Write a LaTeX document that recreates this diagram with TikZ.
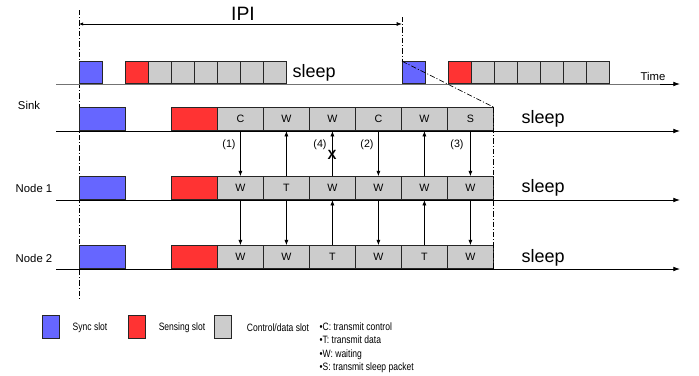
\documentclass[tikz,border=0pt]{standalone}
\usepackage{fontspec}
\setmainfont{Liberation Sans}
\newfontfamily\narrowfont[FakeStretch=0.8]{Liberation Sans}
\usetikzlibrary{arrows.meta}

\definecolor{syncblue}{RGB}{102,102,255}
\definecolor{senred}{RGB}{255,51,51}
\definecolor{slotgrey}{RGB}{204,204,204}

\tikzset{
  slot/.style={draw=black!85, line width=0.6pt, minimum height=17.25pt, inner sep=0pt,
    anchor=south west, font=\fontsize{8}{9}\selectfont},
  wide/.style={slot, minimum width=34.5pt},
  narrow/.style={slot, minimum width=17.25pt, minimum height=16.5pt},
  timeline/.style={line width=0.6pt, -{Latex[length=5pt,width=3.5pt]}},
  msg/.style={line width=0.5pt, -{Latex[length=4pt,width=3pt]}},
  dashdot/.style={line width=0.5pt, dash pattern=on 4pt off 1.5pt on 0.8pt off 1.5pt},
  sleeptxt/.style={anchor=west, font=\fontsize{13.5}{15}\selectfont},
  rowlabel/.style={font=\fontsize{8.5}{10}\selectfont},
  numlabel/.style={font=\fontsize{8}{9}\selectfont},
  legtxt/.style={font=\narrowfont\fontsize{8}{10}\selectfont},
}

\begin{document}
\begin{tikzpicture}[x=0.75pt,y=-0.75pt]
\useasboundingbox (0,0) rectangle (699,375);

% interval between two periods
\draw[line width=0.6pt, {Latex[length=3pt,width=2.5pt]}-{Latex[length=4pt,width=3pt]}] (79,24) -- (402,24);
\node[font=\fontsize{14.5}{16}\selectfont] (ipi) at (243,14) {IPI};
\draw[dashdot] (79,10) -- (79,300);
\draw[dashdot] (402,17) -- (402,62);

% top row: two periods
\draw[line width=0.6pt, draw=black!55] (56,84) -- (670,84);
\draw[timeline] (660,84) -- (680,84);
\node[narrow, fill=syncblue] (p1) at (79,84) {};
\node[narrow, fill=senred] (q1) at (125,84) {};
\foreach \i in {1,...,6}
  \node[narrow, fill=slotgrey] (g\i) at ({125+23*\i},84) {};
\node[sleeptxt] (zz) at (288,73) {sleep};
\node[narrow, fill=syncblue] (p2) at (402,84) {};
\node[narrow, fill=senred] (q2) at (448,84) {};
\foreach \i in {1,...,6}
  \node[narrow, fill=slotgrey] (h\i) at ({448+23*\i},84) {};
\node[font=\fontsize{8.5}{10}\selectfont] (time) at (653,76) {Time};

% sink
\draw[timeline] (56,131) -- (680,131);
\node[rowlabel] (sink) at (29,105) {Sink};
\node[wide, fill=syncblue] (sksync) at (79,131) {};
\node[wide, fill=senred] (sksens) at (171,131) {};
\foreach \l [count=\i] in {C,W,W,C,W,S}
  \node[wide, fill=slotgrey] (sk\i) at ({171+46*\i},131) {\l};
\node[sleeptxt] at (517,119) {sleep};

% node 1
\draw[timeline] (56,200) -- (680,200);
\node[rowlabel] (node1) at (34,188) {Node 1};
\node[wide, fill=syncblue] (nasync) at (79,200) {};
\node[wide, fill=senred] (nasens) at (171,200) {};
\foreach \l [count=\i] in {W,T,W,W,W,W}
  \node[wide, fill=slotgrey] (na\i) at ({171+46*\i},200) {\l};
\node[sleeptxt] at (517,188) {sleep};

% node 2
\draw[timeline] (56,269) -- (680,269);
\node[rowlabel] (node2) at (34,258) {Node 2};
\node[wide, fill=syncblue] (nbsync) at (79,269) {};
\node[wide, fill=senred] (nbsens) at (171,269) {};
\foreach \l [count=\i] in {W,W,T,W,T,W}
  \node[wide, fill=slotgrey] (nb\i) at ({171+46*\i},269) {\l};
\node[sleeptxt] at (517,258) {sleep};

% zoom lines
\draw[dashdot] (p2.north west) -- (sk6.north east);
\draw[dashdot] (sk6.north east) -- (nb6.south east);

% messages sink <-> node 1
\draw[msg] (sk1.south) -- (na1.north);
\draw[msg] (na2.north) -- (sk2.south);
\draw[msg] (na3.north) -- (sk3.south);
\draw[msg] (sk4.south) -- (na4.north);
\draw[msg] (na5.north) -- (sk5.south);
\draw[msg] (sk6.south) -- (na6.north);
\node[numlabel] (m1) at (229,145) {(1)};
\node[numlabel] (m4) at (320,145) {(4)};
\node[numlabel] (m2) at (367,145) {(2)};
\node[numlabel] (m3) at (457,145) {(3)};
\node[font=\bfseries\fontsize{10}{11}\selectfont, inner sep=0pt] (lost) at (332,155) {X};

% messages node 1 <-> node 2
\draw[msg] (na1.south) -- (nb1.north);
\draw[msg] (na2.south) -- (nb2.north);
\draw[msg] (nb3.north) -- (na3.south);
\draw[msg] (na4.south) -- (nb4.north);
\draw[msg] (nb5.north) -- (na5.south);
\draw[msg] (na6.south) -- (nb6.north);

% legend
\node[slot, minimum width=12.75pt, fill=syncblue] (lsync) at (42,339) {};
\node[legtxt] at (90,328) {Sync slot};
\node[slot, minimum width=12.75pt, fill=senred] (lsens) at (128,339) {};
\node[legtxt] at (182,328) {Sensing slot};
\node[slot, minimum width=12.75pt, fill=slotgrey] (lctrl) at (214,339) {};
\node[legtxt] at (278,328) {Control/data slot};
\node[legtxt, anchor=north west, align=left] (codes) at (315,318)
  {\textbullet C: transmit control\\ \textbullet T: transmit data\\
   \textbullet W: waiting\\ \textbullet S: transmit sleep packet};
\end{tikzpicture}
\end{document}
